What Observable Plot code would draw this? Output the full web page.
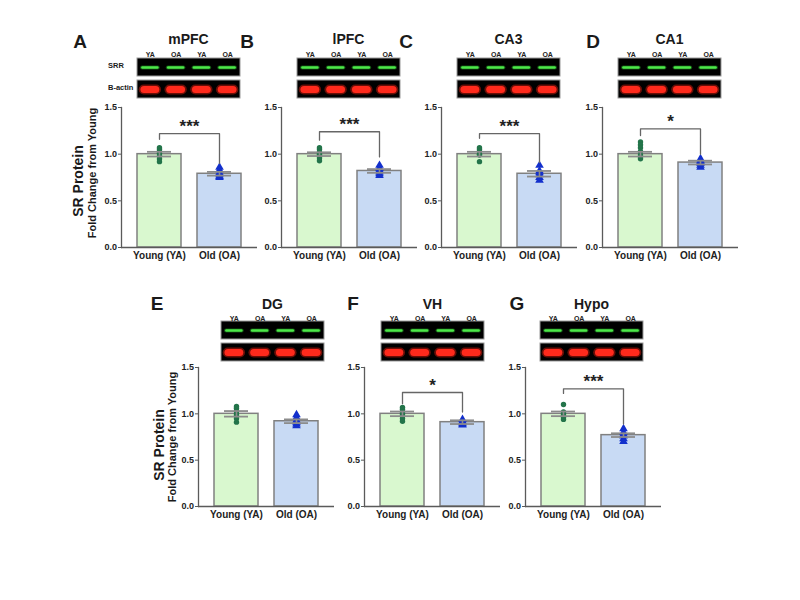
<!DOCTYPE html>
<html><head><meta charset="utf-8">
<script src="https://cdn.jsdelivr.net/npm/d3@7"></script>
<script src="https://cdn.jsdelivr.net/npm/@observablehq/plot@0.6"></script>
<style>
body{margin:0;background:#fff;}
#fig{position:relative;width:800px;height:600px;font-family:"Liberation Sans",Arial,sans-serif;overflow:hidden;background:#fff;color:#1a1a1a;}
#fig .abs{position:absolute;line-height:1;white-space:nowrap;transform:translate(-50%,-50%);}
#fig .rot{transform:translate(-50%,-50%) rotate(-90deg);}
#fig svg{position:absolute;overflow:visible;}
</style></head><body><div id="fig"></div><script>
// ---------- data ----------
const regions = ["mPFC","lPFC","CA3","CA1","DG","VH","Hypo"];
const panelLetters = ["A","B","C","D","E","F","G"];
const groups = ["Young (YA)","Old (OA)"];
const youngMean = [1.00,1.00,1.00,1.00,1.00,1.00,1.00];
const oldMean   = [0.79,0.82,0.79,0.91,0.92,0.91,0.77];
const youngSEM  = [0.025,0.02,0.025,0.025,0.03,0.025,0.025];
const oldSEM    = [0.02,0.02,0.03,0.02,0.02,0.02,0.02];
const youngPoints = [
  [1.07,1.05,1.03,1.01,0.98,0.95,0.92],
  [1.07,1.05,1.02,1.00,0.98,0.96,0.93],
  [1.07,1.05,1.03,1.00,0.99,0.92],
  [1.13,1.10,1.07,1.03,0.99,0.97,0.95],
  [1.08,1.06,1.03,1.00,0.98,0.95,0.91],
  [1.07,1.05,1.02,1.00,0.98,0.95,0.92],
  [1.10,1.02,1.00,0.98,0.96,0.94]
];
const oldPoints = [
  [0.86,0.83,0.80,0.78,0.76,0.75],
  [0.88,0.85,0.83,0.81,0.79,0.77],
  [0.88,0.82,0.80,0.78,0.75,0.72],
  [0.95,0.93,0.92,0.90,0.88,0.86],
  [0.99,0.96,0.93,0.91,0.89,0.87],
  [0.94,0.92,0.91,0.90,0.89,0.88],
  [0.84,0.80,0.78,0.76,0.73,0.70]
];
const stars        = ["***","***","***","*","","*","***"];
const bracketTop   = [1.22,1.24,1.22,1.27,null,1.23,1.27];
const bracketYoung = [1.16,1.15,1.17,1.20,null,1.11,1.22];
const bracketOld   = [0.90,0.97,0.91,1.00,null,1.02,0.89];
const yTicks = [0,0.5,1.0,1.5];
const laneLabels = ["YA","OA","YA","OA"];
const blotRows = ["SRR","B-actin"];
const yTitle = "SR Protein";
const ySubtitle = "Fold Change from Young";

// ---------- layout ----------
const layout = [
  {x0:121, top:107, h:140, blotX:137, blotTop:57, blotH:42, letterX:80,  letterY:41,  titleY:39},
  {x0:281, top:107, h:140, blotX:297, blotTop:57, blotH:42, letterX:247, letterY:41,  titleY:39},
  {x0:441, top:107, h:140, blotX:457, blotTop:57, blotH:42, letterX:406, letterY:41,  titleY:39},
  {x0:602, top:107, h:140, blotX:618, blotTop:57, blotH:42, letterX:593, letterY:41,  titleY:39},
  {x0:198, top:367, h:139, blotX:221, blotTop:321, blotH:41, letterX:157, letterY:302.5, titleY:304},
  {x0:364, top:367, h:139, blotX:381, blotTop:321, blotH:41, letterX:353, letterY:302.5, titleY:304},
  {x0:525, top:367, h:139, blotX:540, blotTop:321, blotH:41, letterX:517, letterY:302.5, titleY:304}
];
const yTitlePos = [
  {panel:0, sx:78, sy:181, fx:92, fy:173},
  {panel:4, sx:159, sy:445, fx:172, fy:437}
];
const BLOT_W = 103;
const fig = document.getElementById("fig");
const FONT = "Liberation Sans, Arial, sans-serif";

function addText(txt, x, y, css, cls="abs") {
  const d = document.createElement("div");
  d.className = cls;
  d.textContent = txt;
  d.style.left = x + "px"; d.style.top = y + "px";
  Object.assign(d.style, css);
  fig.appendChild(d);
}
function place(svg, left, top) {
  svg.style.left = left + "px"; svg.style.top = top + "px";
  fig.appendChild(svg);
}

function barPanel(i, L) {
  const ml = 30, mr = 6, mt = 6, mb = 22, innerW = 136, pad = 16/60;
  const step = innerW / (2 + pad);
  const bars = groups.map((g,k) => ({group:g, mean: k ? oldMean[i] : youngMean[i], sem: k ? oldSEM[i] : youngSEM[i]}));
  const yp = youngPoints[i].map(v => ({group:groups[0], value:v}));
  const op = oldPoints[i].map(v => ({group:groups[1], value:v}));
  const marks = [
    Plot.barY(bars, {x:"group", y:"mean", fill:"group", stroke:"#808080", strokeWidth:1.5}),
    Plot.dot(yp, {x:"group", y:"value", r:2.7, fill:"#23744a"}),
    Plot.dot(op, {x:"group", y:"value", r:3.2, symbol:"triangle", fill:"#1330cc"}),
    Plot.ruleX(bars, {x:"group", y1: d => d.mean - d.sem, y2: d => d.mean + d.sem, stroke:"#8c8c8c", strokeWidth:1.6}),
    Plot.tickY(bars, {x:"group", y: d => d.mean + d.sem, inset:10, stroke:"#8c8c8c", strokeWidth:1.8}),
    Plot.tickY(bars, {x:"group", y: d => d.mean - d.sem, inset:10, stroke:"#8c8c8c", strokeWidth:1.8}),
    Plot.ruleY([0], {stroke:"#5a5a5a", strokeWidth:1.3}),
    Plot.frame({anchor:"left", stroke:"#5a5a5a", strokeWidth:1.3}),
    Plot.axisY({ticks: yTicks, tickFormat: d3.format(".1f"), tickSize:3, tickPadding:1.5, label:null, fontSize:9, fontWeight:"bold", stroke:"#5a5a5a"}),
    Plot.axisX({tickSize:0, tickPadding:4, label:null, fontSize:10, fontWeight:"bold"})
  ];
  if (stars[i]) {
    const br = [
      {g:groups[0], v:bracketYoung[i]}, {g:groups[0], v:bracketTop[i]},
      {g:groups[1], v:bracketTop[i]}, {g:groups[1], v:bracketOld[i]}
    ];
    marks.push(Plot.line(br, {x:"g", y:"v", stroke:"#666", strokeWidth:1.3}));
    marks.push(Plot.text([{g:groups[0], v:bracketTop[i], s:stars[i]}],
      {x:"g", y:"v", text:"s", dx: step/2, dy:-2, lineAnchor:"bottom", fontSize:17, fontWeight:"bold", fill:"#222"}));
  }
  const svg = Plot.plot({
    width: ml + innerW + mr, height: mt + L.h + mb,
    marginLeft: ml, marginRight: mr, marginTop: mt, marginBottom: mb,
    x: {domain: groups, padding: pad},
    y: {domain: [0, 1.5]},
    color: {domain: groups, range: ["#d9f8cf", "#c8daf4"]},
    style: {fontFamily: FONT, color: "#222", background: "transparent", overflow: "visible"},
    marks
  });
  place(svg, L.x0 - ml, L.top - mt);
}

function blotPanel(i, L) {
  const mt = 8;
  const lanes = laneLabels.map((l,k) => ({lane:k, label:l}));
  const bands = blotRows.flatMap(r => lanes.map(d => ({row:r, lane:d.lane})));
  const red = bands.filter(d => d.row === blotRows[1]);
  const green = bands.filter(d => d.row === blotRows[0]);
  const svg = Plot.plot({
    width: BLOT_W, height: mt + L.blotH,
    marginLeft: 0, marginRight: 0, marginBottom: 0, marginTop: mt,
    x: {domain: [0, 4], axis: null},
    y: {domain: blotRows, axis: null, paddingInner: 0.17, paddingOuter: 0},
    style: {fontFamily: FONT, background: "transparent", overflow: "visible"},
    marks: [
      Plot.barX(blotRows, {y: d => d, x1: 0, x2: 4, fill: "#000", stroke: "#9a9a9a", strokeWidth: 1}),
      Plot.ruleY(red, {y: "row", x1: d => d.lane + 0.26, x2: d => d.lane + 0.74, stroke: "#c01a0c", strokeWidth: 10, strokeLinecap: "round", strokeOpacity: 0.55}),
      Plot.ruleY(red, {y: "row", x1: d => d.lane + 0.27, x2: d => d.lane + 0.73, stroke: "#ff2a1c", strokeWidth: 7, strokeLinecap: "round"}),
      Plot.ruleY(green, {y: "row", x1: d => d.lane + 0.2, x2: d => d.lane + 0.8, stroke: "#1f8a20", strokeWidth: 4.2, strokeLinecap: "round", strokeOpacity: 0.6}),
      Plot.ruleY(green, {y: "row", x1: d => d.lane + 0.21, x2: d => d.lane + 0.79, stroke: "#4de84a", strokeWidth: 2.5, strokeLinecap: "round"}),
      Plot.text(lanes, {x: d => d.lane + 0.5, text: "label", frameAnchor: "top", dy: -5, fontSize: 7, fontWeight: "bold", fill: "#222"})
    ]
  });
  place(svg, L.blotX, L.blotTop - mt);
}

layout.forEach((L, i) => {
  barPanel(i, L);
  blotPanel(i, L);
  addText(panelLetters[i], L.letterX, L.letterY, {fontSize: "19px", fontWeight: "bold"});
  addText(regions[i], L.blotX + BLOT_W / 2, L.titleY, {fontSize: "14px", fontWeight: "bold"});
});

// row labels on the first blot
addText(blotRows[0], 108, 66, {fontSize: "7.5px", fontWeight: "bold", transform: "translate(0,-50%)"});
addText(blotRows[1], 108, 88, {fontSize: "7.5px", fontWeight: "bold", transform: "translate(0,-50%)"});

yTitlePos.forEach(p => {
  addText(yTitle, p.sx, p.sy, {fontSize: "14px", fontWeight: "bold"}, "abs rot");
  addText(ySubtitle, p.fx, p.fy, {fontSize: "11px", fontWeight: "bold"}, "abs rot");
});
</script></body></html>
